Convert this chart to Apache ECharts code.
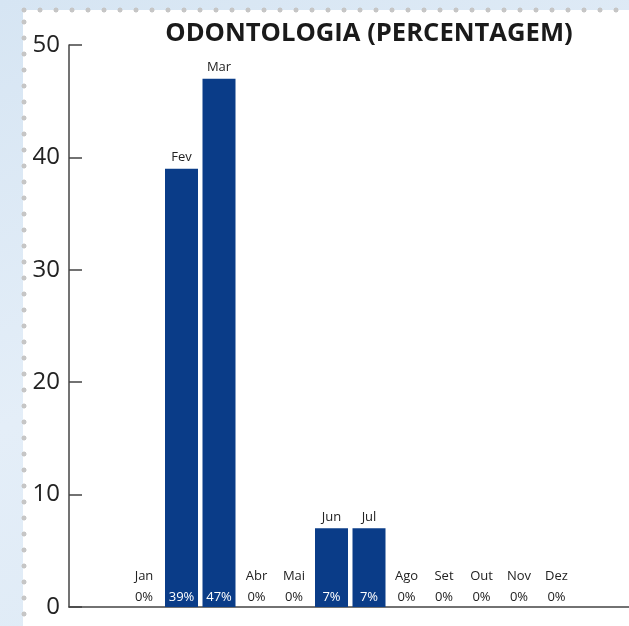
<!DOCTYPE html>
<html>
<head>
<meta charset="utf-8">
<script src="https://cdn.jsdelivr.net/npm/echarts@6/dist/echarts.min.js"></script>
<style>
  html, body { margin: 0; padding: 0; width: 629px; height: 626px; overflow: hidden; }
  body { background: linear-gradient(160deg, #d6e5f3 0%, #e4eef8 50%, #dce9f5 100%); position: relative; }
  #panel { position: absolute; left: 23px; top: 10px; right: 0; bottom: 0; background: #fff; }
  #dotsTop { position: absolute; left: 16px; top: 6px; right: 0; height: 8px;
    background-image: radial-gradient(circle, #c6c6c6 2.2px, transparent 2.8px);
    background-size: 16px 8px; background-repeat: repeat-x; }
  #dotsLeft { position: absolute; left: 20px; top: 14px; width: 8px; bottom: 0;
    background-image: radial-gradient(circle, #c6c6c6 2.2px, transparent 2.8px);
    background-size: 8px 16px; background-repeat: repeat-y; }
  #chart { position: absolute; left: 0; top: 0; width: 629px; height: 626px; }
</style>
</head>
<body>
<div id="panel"></div>
<div id="dotsTop"></div>
<div id="dotsLeft"></div>
<div id="chart"></div>
<script>
// dados do gráfico
const meses = ['Jan', 'Fev', 'Mar', 'Abr', 'Mai', 'Jun', 'Jul', 'Ago', 'Set', 'Out', 'Nov', 'Dez'];
const percentagens = [0, 39, 47, 0, 0, 7, 7, 0, 0, 0, 0, 0];
const yTicks = [0, 10, 20, 30, 40, 50];

const azul = '#0a3c88';
const fonte = '"Open Sans", "Noto Sans", sans-serif';

var chartDom = document.getElementById('chart');
var myChart = echarts.init(chartDom);

// barras com percentagem dentro (em baixo)
const dadosBarras = percentagens.map(v => ({
    value: v,
    label: { color: v > 0 ? '#ffffff' : '#222222' }
}));

// série transparente só para o nome do mês por cima
const dadosMeses = percentagens.map(v => ({
    value: v,
    label: { distance: v > 0 ? 5 : 24 }
}));

var option = {
    animation: false,
    title: {
        text: 'ODONTOLOGIA (PERCENTAGEM)',
        left: 364,
        top: 16,
        textAlign: 'center',
        textStyle: { fontFamily: fonte, fontSize: 25.6, fontWeight: 'bold', color: '#1a1a1a' }
    },
    grid: [
        { left: 69, right: 0, top: 45, bottom: 19 },
        { left: 125.25, width: 450, top: 45, bottom: 19 }
    ],
    xAxis: [
        {
            gridIndex: 0, type: 'value', min: 0, max: 1,
            axisLine: { show: true, onZero: false, lineStyle: { color: '#444', width: 1.5 } },
            axisTick: { show: false }, axisLabel: { show: false }, splitLine: { show: false }
        },
        {
            gridIndex: 1, type: 'category', data: meses,
            axisLine: { show: false }, axisTick: { show: false }, axisLabel: { show: false }
        }
    ],
    yAxis: [
        {
            gridIndex: 0, type: 'value', min: yTicks[0], max: yTicks[yTicks.length - 1], interval: 10,
            axisLine: { show: true, lineStyle: { color: '#444', width: 1.5 } },
            axisTick: { show: true, inside: true, length: 13, lineStyle: { color: '#444', width: 1.5 } },
            axisLabel: { fontFamily: fonte, fontSize: 24, color: '#222', margin: 9 },
            splitLine: { show: false }
        },
        {
            gridIndex: 1, type: 'value', min: yTicks[0], max: yTicks[yTicks.length - 1],
            show: false
        }
    ],
    series: [
        {
            type: 'bar',
            xAxisIndex: 1, yAxisIndex: 1,
            data: dadosBarras,
            barWidth: 33,
            itemStyle: { color: azul },
            label: {
                show: true, position: 'insideBottom', distance: 3,
                formatter: '{c}%',
                fontFamily: fonte, fontSize: 13
            }
        },
        {
            type: 'bar',
            xAxisIndex: 1, yAxisIndex: 1,
            data: dadosMeses,
            barWidth: 33,
            barGap: '-100%',
            itemStyle: { color: 'rgba(0,0,0,0)' },
            silent: true,
            label: {
                show: true, position: 'top',
                formatter: p => meses[p.dataIndex],
                fontFamily: fonte, fontSize: 13, color: '#222'
            }
        }
    ]
};

myChart.setOption(option);
</script>
</body>
</html>
